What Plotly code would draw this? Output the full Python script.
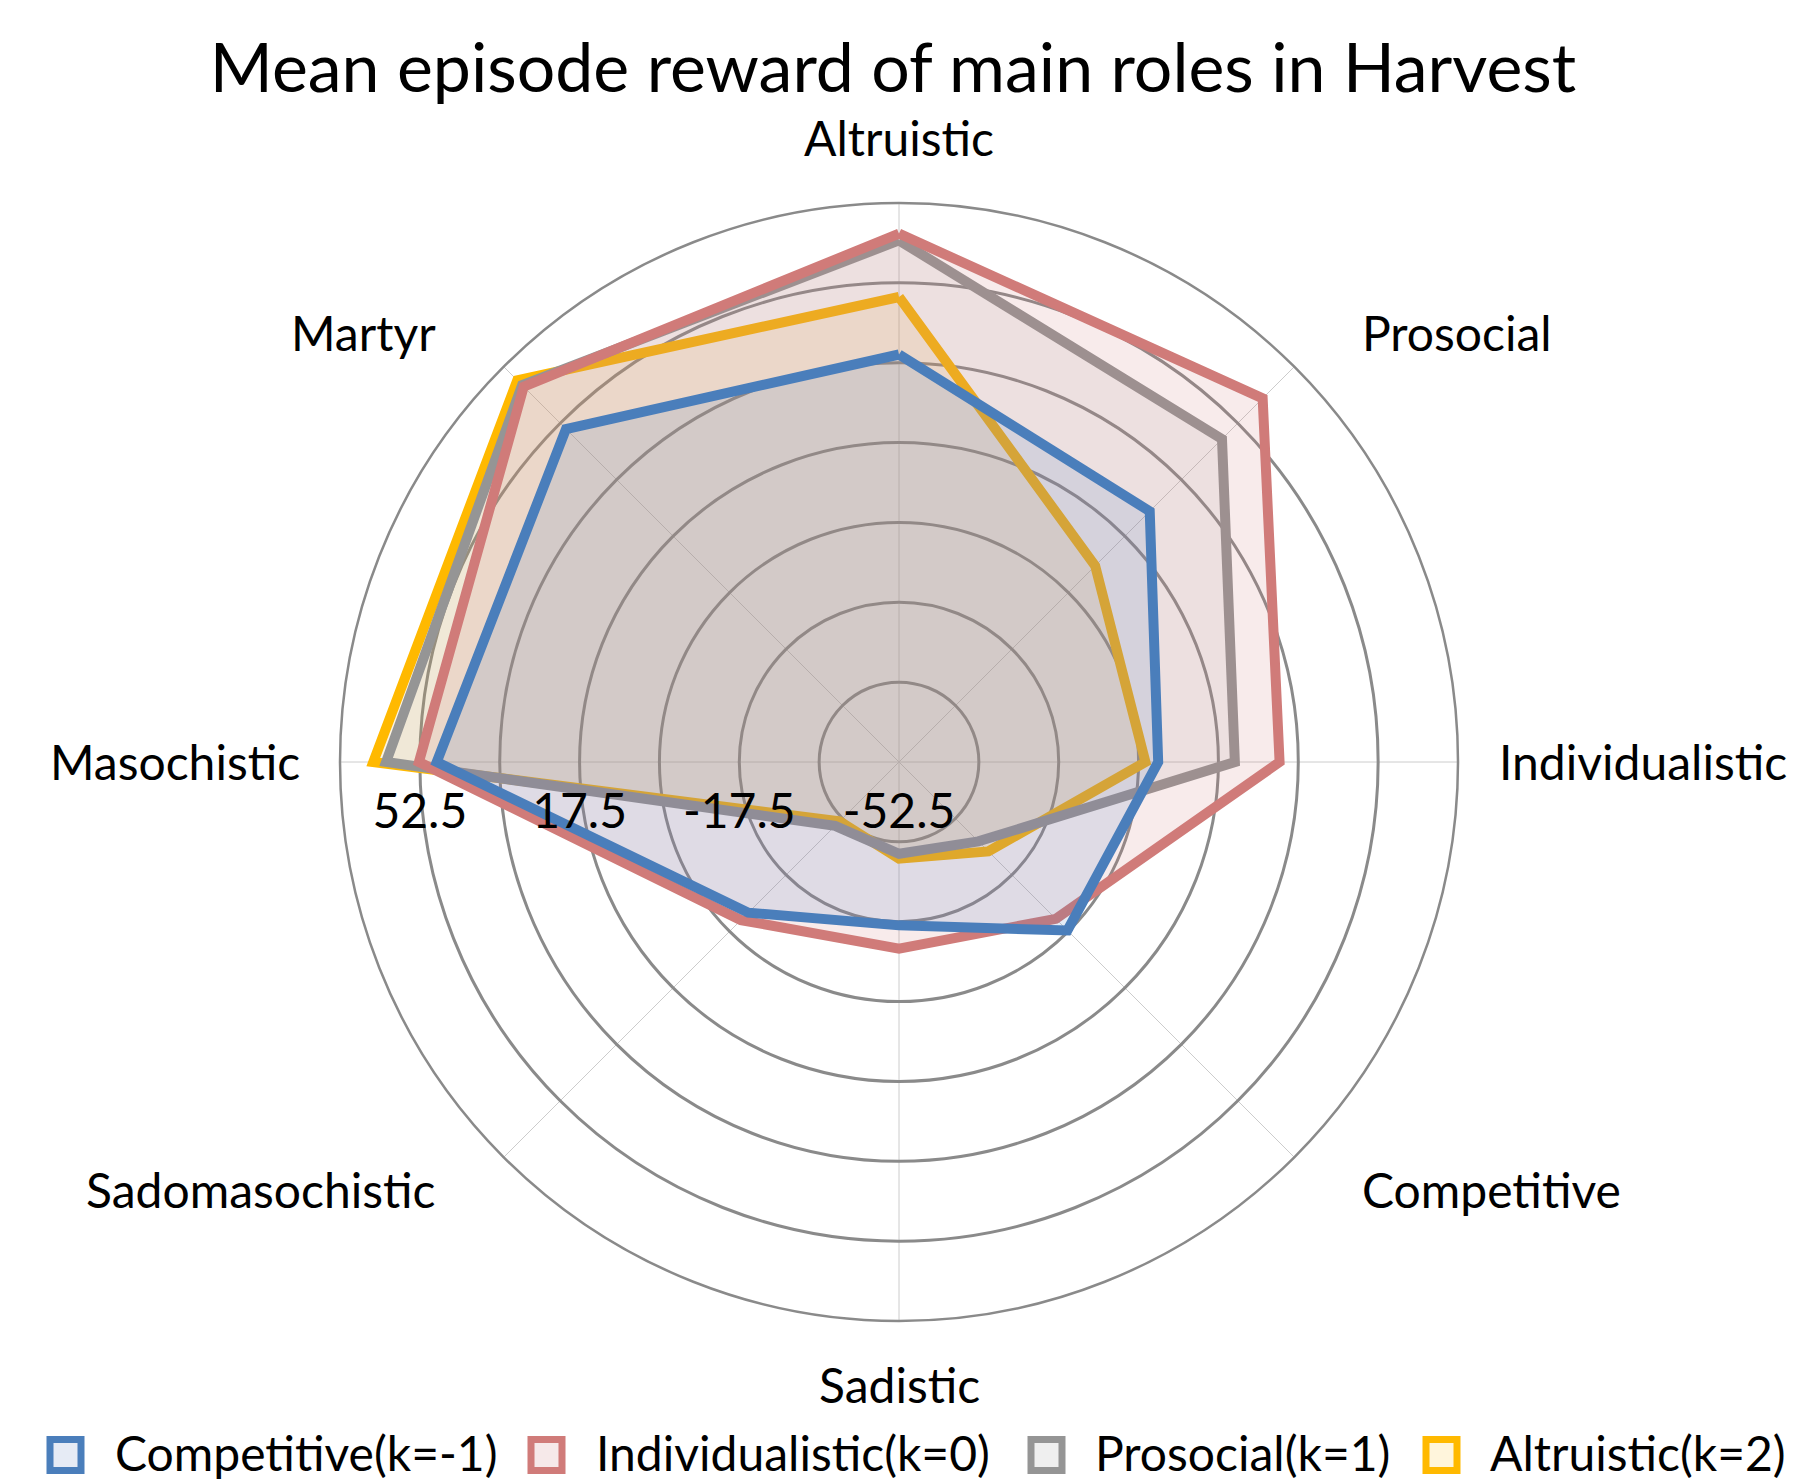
import plotly.graph_objects as go

# ---------------- data ----------------
categories = ["Altruistic", "Prosocial", "Individualistic", "Competitive",
              "Sadistic", "Sadomasochistic", "Masochistic", "Martyr"]
series_names = ["Competitive(k=-1)", "Individualistic(k=0)", "Prosocial(k=1)", "Altruistic(k=2)"]
competitive_vals = [36.8, 25.2, 4.3, -0.3, -16.7, -5.8, 48.8, 50.7]
individualistic_vals = [63.3, 60.2, 30.9, -3.9, -11.6, -3.5, 52.7, 63.8]
prosocial_vals = [61.8, 47.6, 21.1, -27.9, -32.4, -32.7, 59.9, 64.3]
altruistic_vals = [49.4, 8.3, 1.5, -24.8, -31.3, -34.1, 62.7, 65.8]
radial_ticks = [-52.5, -35, -17.5, 0, 17.5, 35, 52.5, 70]
label_ticks = [52.5, 17.5, -17.5, -52.5]
label_texts = ["52.5", "17.5", "-17.5", "-52.5"]

# ---------------- styles ----------------
W, H = 1819, 1480
FONT = "Lato"
line_colors = ["#4A7EBB", "#D07B79", "#959595", "#FFB900"]
fill_colors = ["rgba(70,128,200,0.14)", "rgba(208,122,120,0.15)",
               "rgba(150,150,150,0.12)", "rgba(240,180,40,0.14)"]
legend_fills = ["#E6EBF5", "#F6E9E9", "#EFEFEF", "#FFF5DC"]
values = [competitive_vals, individualistic_vals, prosocial_vals, altruistic_vals]

fig = go.Figure()
# draw order: Altruistic at back, Competitive on top
for i in [3, 2, 1, 0]:
    v = values[i]
    fig.add_trace(go.Scatterpolar(
        r=v + [v[0]], theta=categories + [categories[0]],
        mode="lines", fill="toself", name=series_names[i],
        line=dict(color=line_colors[i], width=10),
        fillcolor=fill_colors[i], showlegend=False, hoverinfo="skip",
    ))

# radial value labels, placed along the Masochistic spoke (below it)
fig.add_trace(go.Scatterpolar(
    r=label_ticks, theta=["Masochistic"] * len(label_ticks),
    mode="markers+text", text=label_texts, textposition="bottom center",
    marker=dict(size=46, color="rgba(0,0,0,0)"),
    textfont=dict(size=48, family=FONT, color="black"),
    showlegend=False, hoverinfo="skip", cliponaxis=False,
))

# polar geometry (pixels)
cx, cy, R = 899, 762, 559
fig.update_layout(
    width=W, height=H,
    margin=dict(l=0, r=0, t=0, b=0),
    paper_bgcolor="white", plot_bgcolor="white",
    font=dict(family=FONT, color="black"),
    title=dict(text="Mean episode reward of main roles in Harvest",
               x=893 / W, y=1 - 68 / H, xanchor="center", yanchor="middle",
               font=dict(size=68, family=FONT, color="black")),
    polar=dict(
        domain=dict(x=[(cx - R) / W, (cx + R) / W],
                    y=[(H - cy - R) / H, (H - cy + R) / H]),
        bgcolor="white",
        radialaxis=dict(range=[-52.5, 70], tickmode="array",
                        tickvals=radial_ticks, showticklabels=False,
                        angle=180, showline=False, ticks="",
                        gridcolor="#8A8A8A", gridwidth=2.5),
        angularaxis=dict(direction="clockwise", rotation=90,
                         showline=True, linecolor="#8A8A8A", linewidth=2.5,
                         gridcolor="#CCCCCC", gridwidth=1.4,
                         ticks="", showticklabels=False),
    ),
    showlegend=False,
)

# category labels placed around the chart like the original (pixel anchors)
label_x = [899, 1360, 1497, 1360, 899, 438, 302, 438]
label_y = [137, 333, 762, 1189, 1384, 1189, 762, 333]
label_anchor = ["center", "left", "left", "left", "center", "right", "right", "right"]
for name, lx, ly, anc in zip(categories, label_x, label_y, label_anchor):
    fig.add_annotation(text=name, xref="paper", yref="paper",
                       x=lx / W, y=(H - ly) / H, xanchor=anc, yanchor="middle",
                       showarrow=False,
                       font=dict(size=48, family=FONT, color="black"))

# manual legend (large square markers like the original)
box_left = [50, 531, 1031, 1426]
text_left = [113, 594, 1093, 1488]
legend_y = 1452
box = 31
for i, name in enumerate(series_names):
    fig.add_shape(type="rect", xref="paper", yref="paper",
                  x0=box_left[i] / W, x1=(box_left[i] + box) / W,
                  y0=(H - legend_y - box / 2 - 3) / H, y1=(H - legend_y + box / 2 - 3) / H,
                  line=dict(color=line_colors[i], width=7),
                  fillcolor=legend_fills[i])
    fig.add_annotation(text=name, xref="paper", yref="paper",
                       x=text_left[i] / W, y=(H - legend_y) / H,
                       xanchor="left", yanchor="middle", showarrow=False,
                       font=dict(size=48, family=FONT, color="black"))

fig.write_html("out.html", config={"displayModeBar": False},
               post_script="document.body.style.margin='0';")
